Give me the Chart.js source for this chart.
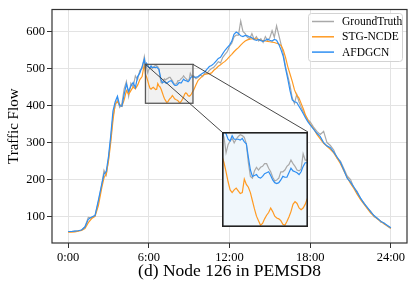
<!DOCTYPE html>
<html><head><meta charset="utf-8">
<script src="https://cdn.jsdelivr.net/npm/chart.js@4.4.1/dist/chart.umd.min.js"></script>
<style>
html,body{margin:0;padding:0;background:#fff;}
#wrap{position:relative;width:415px;height:290px;overflow:hidden;}
#main{position:absolute;left:0;top:0;}
#inset{position:absolute;left:222px;top:132px;}
</style></head><body>
<div id="wrap"><canvas id="main" width="415" height="290"></canvas><canvas id="inset" width="86" height="95"></canvas></div>
<script>
// ---- data (x in minutes since 0:00) ----
const minutes = [0,15,30,45,60,75,90,105,120,135,150,
 160,170,180,190,200,210,220,230,240,250,260,270,280,290,300,310,320,330,340,
 345,350,355,360,365,370,375,380,385,390,395,400,405,410,415,420,425,430,435,440,445,450,455,460,465,470,475,480,485,490,495,500,505,510,515,520,525,530,535,540,545,550,555,
 560,570,580,590,600,610,620,630,640,650,660,670,680,690,700,710,720,730,740,750,760,770,780,790,800,810,820,830,840,850,860,870,880,890,900,910,920,930,940,950,960,970,980,990,1000,1010,1020,1030,1040,1050,1060,1070,1080,
 1095,1110,1125,1140,1155,1170,1185,1200,1215,1230,1245,1260,1275,1290,1305,1320,1335,1350,1365,1380,1395,1410,1425,1440];

const groundTruth = [59,60,61,62,64,73,98,97,103,140,185,
 225,212,255,310,370,400,415,395,405,445,465,425,460,450,480,470,495,500,532,
 512,505,488,497,501,504,499,503,506,508,507,505,498,477,462,460,468,472,469,472,473,476,476,471,467,461,457,458,460,467,467,469,473,475,480,476,473,469,468,470,487,480,480,
 480,472,476,482,478,488,486,495,500,503,510,518,515,530,538,545,560,568,585,590,590,628,600,
 594,584,580,594,578,586,574,580,570,586,575,583,602,584,615,
 590,565,540,505,480,455,420,405,430,410,395,382,372,362,356,
 342,330,322,330,300,292,280,258,250,230,210,200,178,168,148,137,123,115,100,96,85,83,74,68];

const stgNcde = [58,58,59,61,63,68,84,95,101,130,178,
 205,215,250,300,360,405,410,402,398,415,440,430,440,450,445,455,470,478,512,
 484,477,467,456,447,444,447,449,446,443,444,459,453,450,444,435,426,418,413,408,410,415,419,422,427,423,418,416,415,413,409,408,412,417,423,431,434,432,427,425,427,431,437,
 441,455,468,474,480,484,485,486,488,495,500,506,510,515,519,525,532,538,545,551,556,563,569,
 574,577,579,580,580,580,578,576,575,574,573,572,571,570,568,
 566,562,550,530,505,485,465,442,428,420,405,390,372,360,350,
 338,322,310,298,290,282,272,258,243,224,206,190,176,160,146,134,122,110,102,94,88,80,75,69];

const afdgcn = [60,60,61,62,64,72,93,99,103,145,188,
 215,222,262,318,385,410,425,400,398,430,458,438,452,462,448,478,488,505,525,
 500,514,509,503,501,507,503,503,503,502,504,500,498,483,469,462,463,464,461,460,462,465,466,467,463,458,455,454,455,458,462,461,461,466,471,468,467,466,464,467,473,477,477,
 477,476,478,483,487,491,498,505,508,513,520,527,530,540,549,556,563,573,592,598,594,588,586,
 589,588,585,583,578,576,578,575,573,576,579,576,574,578,576,
 565,550,532,500,472,440,415,410,408,398,388,377,366,356,348,
 336,325,316,300,291,286,274,261,247,226,204,193,180,165,150,136,125,113,103,95,88,82,76,70];

const seriesNames = ['GroundTruth','STG-NCDE','AFDGCN'];
const xTickValues = [0,360,720,1080,1440];
const xTickLabels = ['0:00','6:00','12:00','18:00','24:00'];
const yTickValues = [100,200,300,400,500,600];
const zoomX = [345,557];
const zoomY = [406,511];

// ---- styles ----
const colors = ['#a9a9a9','#ff9a22','#2f8ff2'];
const serif = "'Liberation Serif','Times New Roman',serif";

function pts(arr){ return minutes.map((m,i)=>({x:m,y:arr[i]})); }
function makeDatasets(){
  const series=[groundTruth,stgNcde,afdgcn];
  return series.map((s,i)=>({label:seriesNames[i],data:pts(s),borderColor:colors[i],
    borderWidth:1.2,pointRadius:0,tension:0,fill:false,order:3-i}));
}

const mainPlugin = {
  id:'mainDeco',
  beforeDatasetsDraw(chart){
    const {ctx,scales:{x,y}}=chart;
    const x0=x.getPixelForValue(zoomX[0]),x1=x.getPixelForValue(zoomX[1]);
    const y0=y.getPixelForValue(zoomY[1]),y1=y.getPixelForValue(zoomY[0]);
    ctx.save();ctx.fillStyle='rgba(215,215,215,0.35)';ctx.fillRect(x0,y0,x1-x0,y1-y0);ctx.restore();
  },
  afterDatasetsDraw(chart){
    const {ctx,chartArea:a,scales:{x,y}}=chart;
    const x0=x.getPixelForValue(zoomX[0]),x1=x.getPixelForValue(zoomX[1]);
    const y0=y.getPixelForValue(zoomY[1]),y1=y.getPixelForValue(zoomY[0]);
    ctx.save();
    ctx.strokeStyle='#5a5a5a';ctx.lineWidth=1.3;ctx.strokeRect(x0,y0,x1-x0,y1-y0);
    const ins=document.getElementById('inset');
    const il=ins.offsetLeft, it=ins.offsetTop, iw=ins.width;
    ctx.strokeStyle='#333';ctx.lineWidth=0.9;
    ctx.beginPath();ctx.moveTo(x0,y0);ctx.lineTo(il,it);ctx.moveTo(x1,y0);ctx.lineTo(il+iw,it);ctx.stroke();
    // frame
    ctx.strokeStyle='#333';ctx.lineWidth=1.2;
    ctx.strokeRect(a.left,a.top,a.right-a.left,a.bottom-a.top);
    // legend
    const lx=308,ly=13,lw=94,lh=48;
    ctx.fillStyle='rgba(255,255,255,0.85)';ctx.strokeStyle='#d3d3d3';ctx.lineWidth=1;
    ctx.beginPath();ctx.roundRect(lx+0.5,ly+0.5,lw,lh,3);ctx.fill();ctx.stroke();
    ctx.font='11.5px '+serif;ctx.textBaseline='middle';ctx.textAlign='left';
    chart.data.datasets.forEach((d,i)=>{
      const ry=ly+8.5+i*15.3;
      ctx.strokeStyle=d.borderColor;ctx.lineWidth=1.5;
      ctx.beginPath();ctx.moveTo(lx+4,ry);ctx.lineTo(lx+26,ry);ctx.stroke();
      ctx.fillStyle='#000';ctx.fillText(d.label,lx+34,ry+0.5);
    });
    ctx.restore();
  }
};

new Chart(document.getElementById('main'),{
  type:'line',
  data:{datasets:makeDatasets()},
  options:{
    responsive:false,animation:false,events:[],
    layout:{padding:{top:8,right:8,left:0,bottom:0}},
    plugins:{legend:{display:false},tooltip:{enabled:false}},
    scales:{
      x:{type:'linear',min:-72,max:1512,
        afterBuildTicks:(s)=>{s.ticks=xTickValues.map(v=>({value:v}));},
        afterFit:(s)=>{s.height=47;s.paddingLeft=0;s.paddingRight=0;},
        ticks:{autoSkip:false,maxRotation:0,padding:2,color:'#000',font:{family:serif,size:12.5},
          callback:(v)=>xTickLabels[xTickValues.indexOf(v)]},
        grid:{color:'#e3e3e3',lineWidth:1,tickColor:'#333',tickLength:5,tickWidth:1},
        border:{display:false},
        title:{display:true,text:'(d) Node 126 in PEMSD8',color:'#000',font:{family:serif,size:17.5},padding:{top:0,bottom:8}}
      },
      y:{type:'linear',min:29,max:659,
        afterBuildTicks:(s)=>{s.ticks=yTickValues.map(v=>({value:v}));},
        afterFit:(s)=>{s.width=52;},
        ticks:{padding:2,color:'#000',font:{family:serif,size:12.5}},
        grid:{color:'#e3e3e3',lineWidth:1,tickColor:'#333',tickLength:5,tickWidth:1},
        border:{display:false},
        title:{display:true,text:'Traffic Flow',color:'#000',font:{family:serif,size:15},padding:{top:5,bottom:0}}
      }
    }
  },
  plugins:[mainPlugin]
});

const insetPlugin={
  id:'insetDeco',
  beforeDraw(chart){const {ctx,width,height}=chart;ctx.save();ctx.fillStyle='#f0f7fc';ctx.fillRect(0,0,width,height);ctx.restore();},
  afterDraw(chart){const {ctx,width,height}=chart;ctx.save();ctx.strokeStyle='#222';ctx.lineWidth=1.6;ctx.strokeRect(0.8,0.8,width-1.6,height-1.6);ctx.restore();}
};
new Chart(document.getElementById('inset'),{
  type:'line',
  data:{datasets:makeDatasets()},
  options:{
    responsive:false,animation:false,events:[],
    layout:{padding:0},
    plugins:{legend:{display:false},tooltip:{enabled:false}},
    scales:{
      x:{type:'linear',display:false,min:zoomX[0],max:zoomX[1]},
      y:{type:'linear',display:false,min:zoomY[0],max:zoomY[1]}
    }
  },
  plugins:[insetPlugin]
});
</script></body></html>
